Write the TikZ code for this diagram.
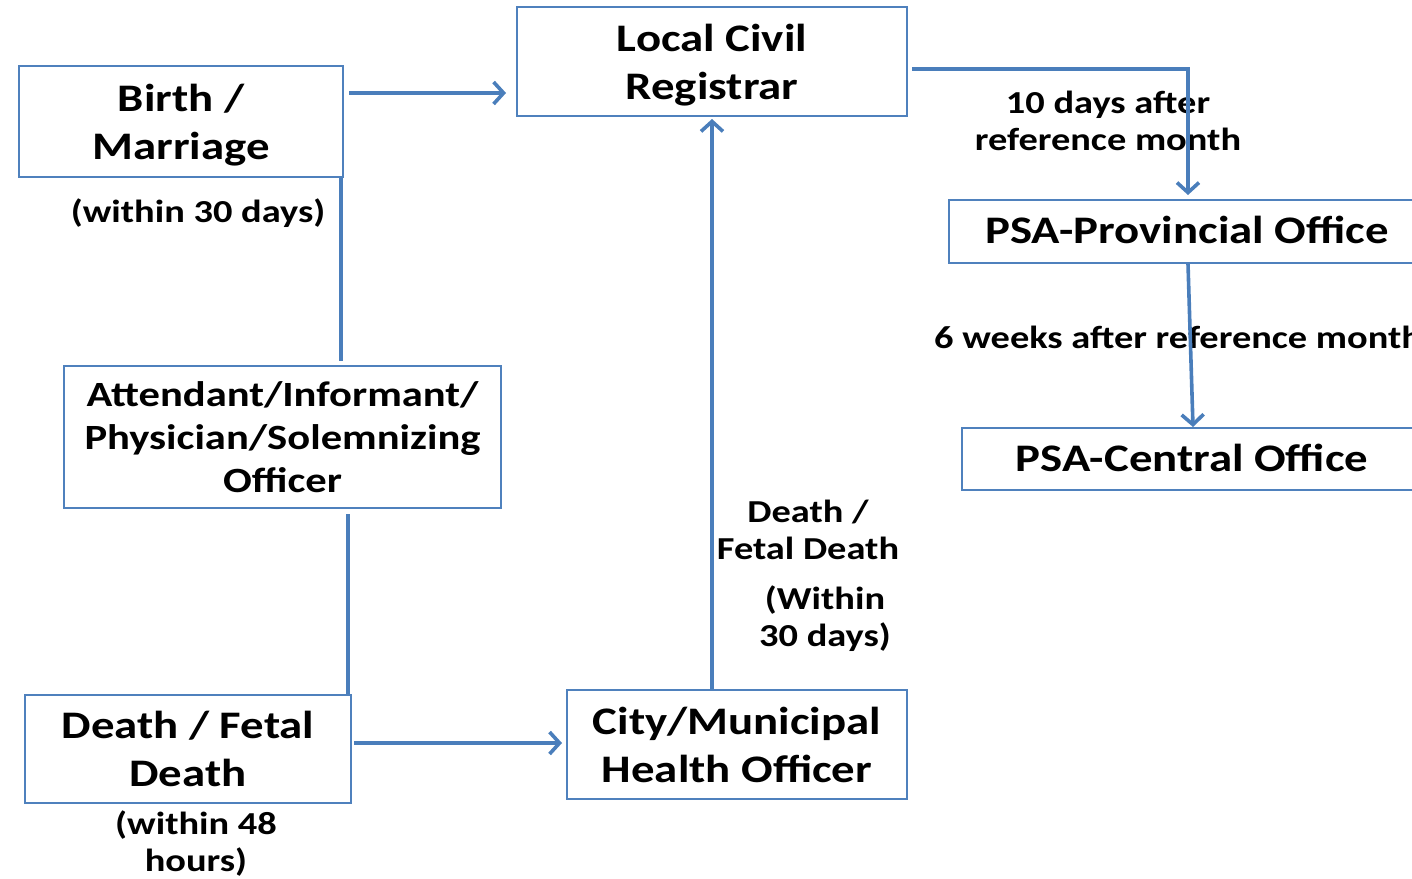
\documentclass[tikz,border=0pt]{standalone}
\usepackage{fontspec}
\setmainfont{Carlito}[FakeStretch=1.2]
\usetikzlibrary{arrows.meta}
\definecolor{boxblue}{HTML}{4F81BD}
\definecolor{lineblue}{HTML}{4A7EBB}
\tikzset{
  box/.style={draw=boxblue, line width=2pt, align=center, inner sep=0pt,
    font=\fontsize{39}{48}\selectfont\bfseries},
  txt/.style={align=center, inner sep=0pt, font=\fontsize{39}{48}\selectfont\bfseries},
  lbl/.style={align=center, inner sep=0pt, font=\fontsize{32}{37}\selectfont\bfseries},
  conn/.style={draw=lineblue, line width=3.6pt},
  arr/.style={conn, -{Straight Barb[length=10pt,width=22pt]}},
}
\begin{document}
\begin{tikzpicture}[x=1pt,y=-1pt]
\useasboundingbox (0,0) rectangle (1412,878);
\clip (0,0) rectangle (1412,878);
% boxes
\node[box, minimum width=390pt, minimum height=109pt] (lcr) at (712,61.5) {};
\node[txt] (lcrt) at (712,65.5) {Local Civil\\Registrar};
\node[box, minimum width=324pt, minimum height=111pt] (birth) at (181,121.5) {};
\node[txt] (birtht) at (181,125) {Birth /\\Marriage};
\node[box, minimum width=437pt, minimum height=142pt] (att) at (282.5,437) {};
\node[txt, font=\fontsize{35.5}{43}\selectfont\bfseries] (attt) at (282.5,437) {Attendant/Informant/\\Physician/Solemnizing\\Officer};
\node[box, minimum width=326pt, minimum height=108pt] (death) at (188,749) {Death / Fetal\\Death};
\node[box, minimum width=340pt, minimum height=109pt] (city) at (737,744.5) {City/Municipal\\Health Officer};
\node[box, minimum width=481pt, minimum height=63pt] (prov) at (1189.5,231.5) {};
\node[txt] (provt) at (1187,229.5) {PSA-Provincial Office};
\node[box, minimum width=460pt, minimum height=62pt] (cent) at (1192,459) {};
\node[txt] (centt) at (1192,458) {PSA-Central Office};
% labels
\node[lbl] (l30) at (198,213) {(within 30 days)};
\node[lbl] (l10) at (1108,121) {10 days after\\reference month};
\node[lbl, anchor=west] (l6w) at (934,337) {6 weeks after reference month};
\node[lbl] (ldf) at (808,529.5) {Death /\\Fetal Death};
\node[lbl] (lw30) at (825,618.5) {(Within\\30 days)};
\node[lbl] (l48) at (196,844) {(within 48\\hours)};
% connectors
\draw[arr] ([xshift=5pt,yshift=28.5pt]birth.east) -- ([xshift=-10pt]lcr.west |- 0,93);
\draw[conn, shorten >=4pt] ([xshift=-3pt]birth.south east) -- ([xshift=-3pt]birth.south east |- att.north);
\draw[conn, shorten <=5pt] ([xshift=-4pt]death.north east |- att.south) -- ([xshift=-4pt]death.north east);
\draw[arr, shorten >=4pt] ([xshift=2pt,yshift=6pt]death.east) -- (city.west |- 0,743);
\draw[arr, shorten >=2pt] (lcr.south |- city.north) -- (lcr.south);
\draw[arr, shorten >=4pt] ([xshift=4pt,yshift=-7.5pt]lcr.east) -| ([xshift=-1.5pt]prov.north);
\draw[arr] ([xshift=-1.5pt]prov.south) -- ([xshift=1pt]cent.north);
\end{tikzpicture}
\end{document}
